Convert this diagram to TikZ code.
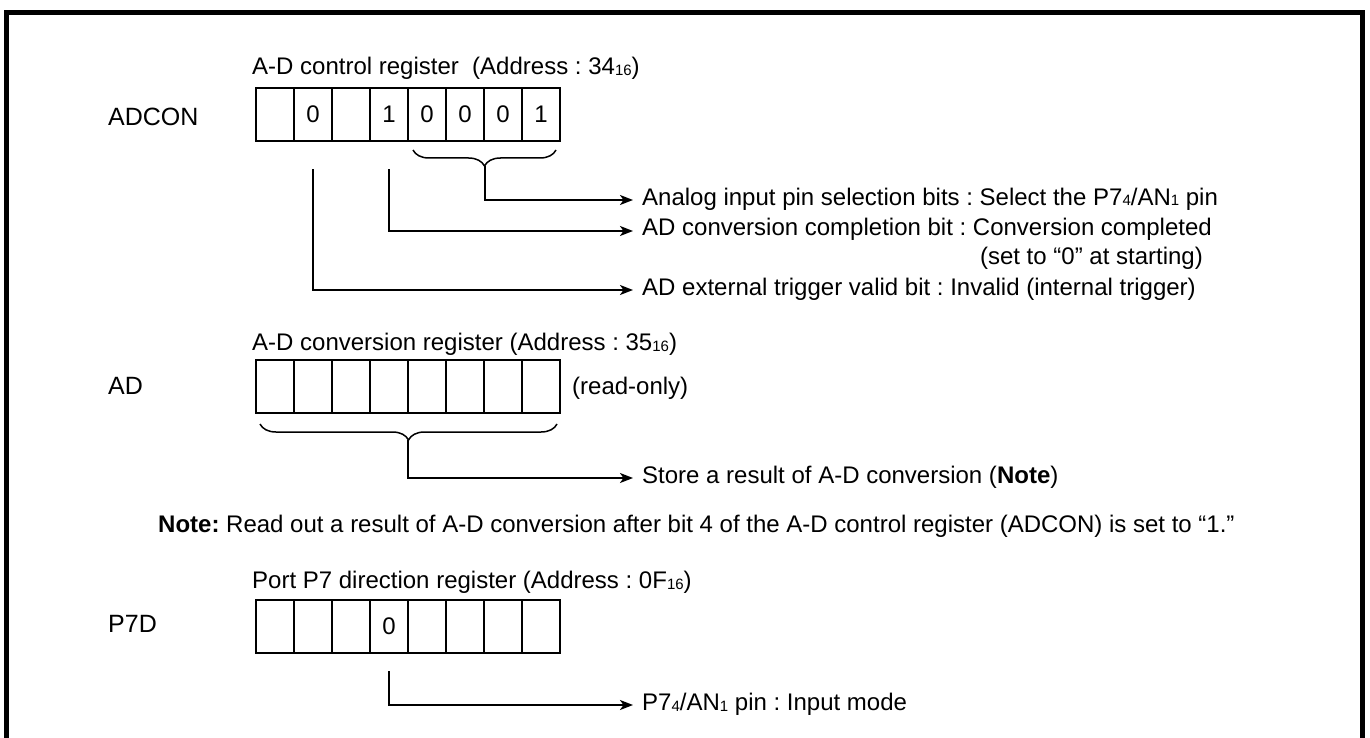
\documentclass[tikz,border=0pt]{standalone}
\usepackage{fontspec}
\setmainfont{Liberation Sans}
\usetikzlibrary{arrows.meta,decorations.pathreplacing}
\newcommand\sbs[1]{\raisebox{-1pt}{\fontsize{15}{15}\selectfont #1}}
\frenchspacing
\begin{document}
\begin{tikzpicture}[x=1pt,y=-1pt,
  cell/.style={draw,line width=2.4pt,minimum width=38pt,minimum height=53pt,inner sep=0pt,font=\fontsize{24}{24}\selectfont},
  lbl/.style={anchor=base west,inner sep=0pt,font=\fontsize{24}{28}\selectfont},
  reglbl/.style={anchor=base west,inner sep=0pt,font=\fontsize{25}{28}\selectfont},
  txt/.style={anchor=west,inner xsep=9pt,inner ysep=0pt,text height=10pt,text depth=-10pt,font=\fontsize{24}{28}\selectfont},
  conn/.style={line width=1.9pt,-{Stealth[length=13pt,width=10pt,inset=3.5pt]}},
  brc/.style={line width=1.5pt,decorate,decoration={brace,amplitude=16pt,mirror}}]
\useasboundingbox (0,0) rectangle (1370,738);
\clip (0,0) rectangle (1370,738);
\fill[white] (0,0) rectangle (1370,738);
% frame
\draw[line width=5pt] (6.5,760) -- (6.5,12.5) -- (1362.5,12.5) -- (1362.5,760);

% ---------- ADCON ----------
\node[lbl] (tit1) at (252,75) {A-D control register \ (Address : 34\sbs{16})};
\node[reglbl] (lab1) at (108,126) {ADCON};
\foreach \i/\v in {1/,2/0,3/,4/1,5/0,6/0,7/0,8/1}
  \node[cell] (a\i) at (237+38*\i,114.5) {\v};
\draw[brc] (413,150) -- (556,150);
\coordinate (b1) at (485,166);
\node[txt] (ta) at (633,200) {Analog input pin selection bits : Select the P7\sbs{4}/AN\sbs{1} pin};
\node[txt] (tb) at (633,231) {AD conversion completion bit : Conversion completed};
\node[lbl,anchor=base east] (tb2) at (1203,264) {(set to “0” at starting)};
\node[txt] (tc) at (633,290) {AD external trigger valid bit : Invalid (internal trigger)};
\draw[conn] (b1) |- (ta.west);
\draw[conn] ([yshift=-27pt]a4.south) |- (tb.west);
\draw[conn] ([yshift=-27pt]a2.south) |- (tc.west);

% ---------- AD ----------
\node[lbl] (tit2) at (252,350) {A-D conversion register (Address : 35\sbs{16})};
\node[reglbl] (lab2) at (108,394) {AD};
\foreach \i in {1,...,8}
  \node[cell] (d\i) at (237+38*\i,386.5) {};
\node[lbl] (ro) at (572,394.5) {(read-only)};
\draw[brc] (260,424) -- (557,424);
\coordinate (b2) at (408,440);
\node[txt] (td) at (633,478) {Store a result of A-D conversion (\textbf{Note})};
\draw[conn] (b2) |- (td.west);

\node[lbl] (note) at (158,532) {\textbf{Note:} Read out a result of A-D conversion after bit 4 of the A-D control register (ADCON) is set to “1.”};

% ---------- P7D ----------
\node[lbl] (tit3) at (252,588.5) {Port P7 direction register (Address : 0F\sbs{16})};
\node[reglbl] (lab3) at (108,632) {P7D};
\foreach \i/\v in {1/,2/,3/,4/0,5/,6/,7/,8/}
  \node[cell] (p\i) at (237+38*\i,626.5) {\v};
\node[txt] (te) at (633,705) {P7\sbs{4}/AN\sbs{1} pin : Input mode};
\draw[conn] ([yshift=-17pt]p4.south) |- (te.west);
\end{tikzpicture}
\end{document}
